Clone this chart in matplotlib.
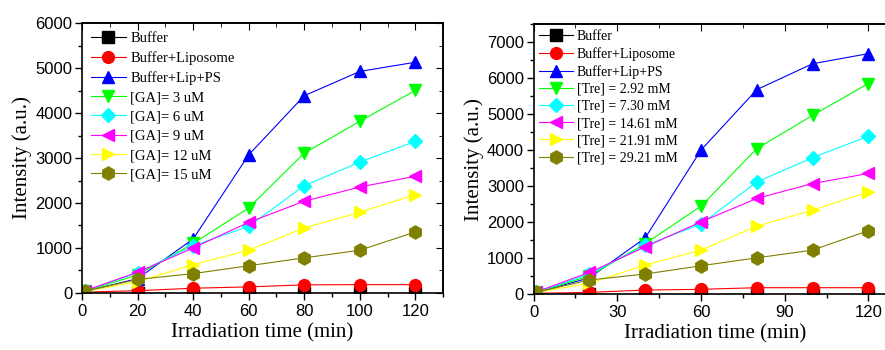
import matplotlib
matplotlib.use("Agg")
import matplotlib.pyplot as plt
from matplotlib.ticker import MultipleLocator

# Irradiation time (min)
times = [1, 20, 40, 60, 80, 100, 120]

# Left panel: GA series
ga_labels = ["Buffer", "Buffer+Liposome", "Buffer+Lip+PS", "[GA]= 3 uM",
             "[GA]= 6 uM", "[GA]= 9 uM", "[GA]= 12 uM", "[GA]= 15 uM"]
ga_buffer = [10, 10, 10, 10, 10, 10, 10]
ga_liposome = [20, 50, 105, 135, 180, 185, 185]
ga_lip_ps = [30, 320, 1200, 3070, 4385, 4925, 5130]
ga_3 = [40, 400, 1100, 1890, 3110, 3815, 4505]
ga_6 = [45, 450, 1050, 1480, 2385, 2910, 3370]
ga_9 = [50, 460, 1000, 1570, 2040, 2355, 2595]
ga_12 = [30, 250, 630, 950, 1445, 1795, 2185]
ga_15 = [40, 300, 430, 605, 780, 950, 1355]

# Right panel: Tre series
tre_labels = ["Buffer", "Buffer+Liposome", "Buffer+Lip+PS", "[Tre] = 2.92 mM",
              "[Tre] = 7.30 mM", "[Tre] = 14.61 mM", "[Tre] = 21.91 mM",
              "[Tre] = 29.21 mM"]
tre_buffer = [10, 10, 10, 10, 10, 10, 10]
tre_liposome = [20, 45, 110, 130, 175, 175, 175]
tre_lip_ps = [40, 450, 1560, 4000, 5680, 6400, 6680]
tre_3 = [50, 500, 1400, 2440, 4040, 4965, 5850]
tre_7 = [55, 550, 1350, 1940, 3115, 3790, 4385]
tre_14 = [60, 600, 1310, 2005, 2655, 3070, 3350]
tre_21 = [40, 300, 805, 1220, 1885, 2330, 2840]
tre_29 = [50, 390, 555, 785, 1005, 1220, 1760]

colors = ["#000000", "#FF0000", "#0000FF", "#00FF00", "#00FFFF",
          "#FF00FF", "#FFFF00", "#808000"]
markers = ["s", "o", "^", "v", "D", "<", ">", "h"]
sizes = [8, 8.5, 9, 9, 7.5, 9, 9, 9.5]

serif = "Liberation Serif"
sans = "Liberation Sans"

fig = plt.figure(figsize=(8.85, 3.5), dpi=100)
ax1 = fig.add_axes([0.0927, 0.163, 0.408, 0.771])
ax2 = fig.add_axes([0.603, 0.160, 0.4097, 0.771])


def draw_panel(ax, series, labels, xmax, ymax, xmajor, legend_fs, spacing,
               bpad):
    for vals, lab, c, m, ms in zip(series, labels, colors, markers, sizes):
        ax.plot(times, vals, color=c, marker=m, markersize=ms, linewidth=0.8,
                markeredgecolor=c, label=lab)
    ax.set_xlim(0, xmax)
    ax.set_ylim(0, ymax)
    ax.xaxis.set_major_locator(MultipleLocator(xmajor))
    ax.xaxis.set_minor_locator(MultipleLocator(xmajor / 2))
    ax.yaxis.set_major_locator(MultipleLocator(1000))
    ax.yaxis.set_minor_locator(MultipleLocator(500))
    ax.tick_params(which="major", direction="out", length=5, width=1,
                   labelsize=12, pad=2)
    ax.tick_params(axis="x", which="major", pad=3)
    ax.tick_params(which="minor", direction="out", length=3, width=1)
    for lab in ax.get_xticklabels() + ax.get_yticklabels():
        lab.set_fontfamily(sans)
    for s in ax.spines.values():
        s.set_linewidth(1.2)
    # mirrored inward ticks on top and right
    top = ax.secondary_xaxis("top")
    top.xaxis.set_major_locator(MultipleLocator(xmajor))
    top.xaxis.set_minor_locator(MultipleLocator(xmajor / 2))
    top.tick_params(which="major", direction="in", length=5, labeltop=False)
    top.tick_params(which="minor", direction="in", length=3)
    top.spines["top"].set_linewidth(1.2)
    right = ax.secondary_yaxis("right")
    right.yaxis.set_major_locator(MultipleLocator(1000))
    right.yaxis.set_minor_locator(MultipleLocator(500))
    right.tick_params(which="major", direction="in", length=5, labelright=False)
    right.tick_params(which="minor", direction="in", length=3)
    right.spines["right"].set_linewidth(1.2)
    ax.set_xlabel("Irradiation time (min)", fontfamily=serif, fontsize=15,
                  labelpad=3)
    ax.set_ylabel("Intensity (a.u.)", fontfamily=serif, fontsize=15,
                  labelpad=2)
    ax.legend(loc="upper left", bbox_to_anchor=(0, 1), frameon=False,
              prop={"family": serif, "size": legend_fs}, handlelength=2.4,
              handletextpad=0.3, labelspacing=spacing, borderaxespad=0.1,
              borderpad=bpad)


draw_panel(ax1, [ga_buffer, ga_liposome, ga_lip_ps, ga_3, ga_6, ga_9, ga_12,
                 ga_15], ga_labels, 130, 6000, 20, 10.5, 0.42, 0.5)
draw_panel(ax2, [tre_buffer, tre_liposome, tre_lip_ps, tre_3, tre_7, tre_14,
                 tre_21, tre_29], tre_labels, 130, 7500, 30, 10, 0.3, 0.3)

fig.savefig("out.png", dpi=100)
